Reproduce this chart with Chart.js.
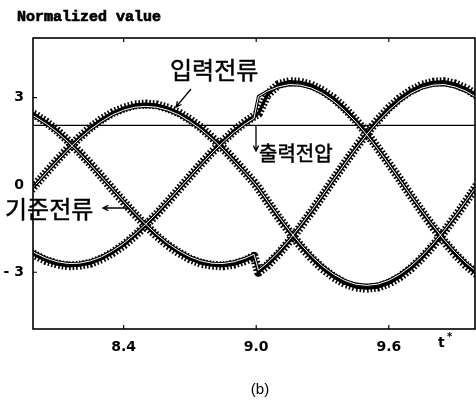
<!DOCTYPE html>
<html>
<head>
<meta charset="utf-8">
<script src="https://cdn.jsdelivr.net/npm/chart.js@4.4.0/dist/chart.umd.min.js"></script>
<style>
    html, body { margin: 0; padding: 0; background: #fff; }
    canvas { display: block; }
</style>
</head>
<body>
<canvas id="chart" width="476" height="401"></canvas>
<script>
// normalized time t*
const timeAxis = [
    7.95, 8.0, 8.05, 8.1, 8.15, 8.2, 8.25, 8.3, 8.35, 8.4, 8.45, 8.5, 8.55, 8.6, 8.65,
    8.7, 8.75, 8.8, 8.85, 8.9, 8.95, 8.99, 9.01, 9.05, 9.1, 9.15, 9.2, 9.25, 9.3, 9.35,
    9.4, 9.45, 9.5, 9.55, 9.6, 9.65, 9.7, 9.75, 9.8, 9.85, 9.9, 9.95, 10.0,
]

// 기준전류 (reference currents, phases a/b/c) - step in amplitude at t* = 9.0
const refA = [
    -0.42, 0, 0.42, 0.83, 1.23, 1.59, 1.91, 2.18, 2.41, 2.57, 2.67, 2.7, 2.67, 2.57, 2.41,
    2.18, 1.91, 1.59, 1.23, 0.83, 0.42, 0.08, -0.11, -0.54, -1.07, -1.57, -2.03, -2.44, -2.79, -3.07,
    -3.28, -3.41, -3.45, -3.41, -3.28, -3.07, -2.79, -2.44, -2.03, -1.57, -1.07, -0.54, 0,
]
const refB = [
    2.52, 2.34, 2.1, 1.81, 1.47, 1.1, 0.7, 0.28, -0.14, -0.56, -0.97, -1.35, -1.7, -2.01, -2.26,
    -2.47, -2.61, -2.69, -2.7, -2.64, -2.52, -2.38, -2.93, -2.68, -2.31, -1.88, -1.4, -0.89, -0.36, 0.18,
    0.72, 1.24, 1.73, 2.17, 2.56, 2.89, 3.15, 3.33, 3.43, 3.45, 3.37, 3.22, 2.99,
]
const refC = [
    -2.1, -2.34, -2.52, -2.64, -2.7, -2.69, -2.61, -2.47, -2.26, -2.01, -1.7, -1.35, -0.97, -0.56, -0.14,
    0.28, 0.7, 1.1, 1.47, 1.81, 2.1, 2.29, 3.04, 3.22, 3.37, 3.45, 3.43, 3.33, 3.15, 2.89,
    2.56, 2.17, 1.73, 1.24, 0.72, 0.18, -0.36, -0.89, -1.4, -1.88, -2.31, -2.68, -2.99,
]

// 입력전류 (measured input currents)
const inA = [
    -0.43, 0, 0.43, 0.86, 1.26, 1.63, 1.97, 2.25, 2.48, 2.64, 2.75, 2.78, 2.75, 2.64, 2.48,
    2.25, 1.97, 1.63, 1.26, 0.86, 0.43, 0.09, -0.11, -0.56, -1.1, -1.61, -2.09, -2.51, -2.87, -3.16,
    -3.38, -3.51, -3.55, -3.51, -3.38, -3.16, -2.87, -2.51, -2.09, -1.61, -1.1, -0.56, 0,
]
const inB = [
    2.6, 2.41, 2.16, 1.86, 1.51, 1.13, 0.72, 0.29, -0.15, -0.58, -1.0, -1.39, -1.75, -2.07, -2.33,
    -2.54, -2.69, -2.76, -2.78, -2.72, -2.6, -2.45, -3.0, -2.76, -2.38, -1.93, -1.44, -0.92, -0.37, 0.19,
    0.74, 1.27, 1.78, 2.23, 2.64, 2.98, 3.24, 3.43, 3.53, 3.55, 3.47, 3.31, 3.07,
]
const inC = [
    -2.16, -2.41, -2.6, -2.72, -2.78, -2.76, -2.69, -2.54, -2.33, -2.07, -1.75, -1.39, -1.0, -0.58, -0.15,
    0.29, 0.72, 1.13, 1.51, 1.86, 2.16, 2.36, 2.45, 3.1, 3.45, 3.55, 3.53, 3.43, 3.24, 2.98,
    2.64, 2.23, 1.78, 1.27, 0.74, 0.19, -0.37, -0.92, -1.44, -1.93, -2.38, -2.76, -3.07,
]

// 출력전압 (output voltage, flat)
const outTime = [7.99, 9.99]
const outVoltage = [2.05, 2.05]

const xTicks = [8.4, 9.0, 9.6]
const yTicks = [-3, 0, 3]

function points(times, values) {
    return times.map((t, i) => ({ x: t, y: values[i] }))
}

function trace(values, width, color, order, dash) {
    return {
        data: points(timeAxis, values),
        borderColor: color,
        borderWidth: width,
        borderDash: dash || [],
        borderCapStyle: "butt",
        borderJoinStyle: "round",
        pointRadius: 0,
        tension: 0,
        clip: 0,
        order: order,
    }
}

function arrow(ctx, x1, y1, x2, y2) {
    const a = Math.atan2(y2 - y1, x2 - x1)
    const h = 6
    ctx.beginPath()
    ctx.moveTo(x1, y1)
    ctx.lineTo(x2, y2)
    ctx.moveTo(x2 - h * Math.cos(a - 0.45), y2 - h * Math.sin(a - 0.45))
    ctx.lineTo(x2, y2)
    ctx.lineTo(x2 - h * Math.cos(a + 0.45), y2 - h * Math.sin(a + 0.45))
    ctx.stroke()
}

const decorations = {
    id: "decorations",
    beforeDatasetsDraw(chart) {
        const ctx = chart.ctx
        ctx.save()
        ctx.fillStyle = "#000"
        ctx.strokeStyle = "#000"
        ctx.textBaseline = "middle"
        ctx.textAlign = "left"

        // heavy typewriter title
        ctx.font = "bold 15px 'Liberation Mono'"
        ctx.lineWidth = 0.7
        ctx.fillText("Normalized value", 17, 17)
        ctx.strokeText("Normalized value", 17, 17)

        ctx.font = "24px 'Noto Sans CJK KR'"
        ctx.lineWidth = 0.5
        ctx.fillText("입력전류", 170, 70)
        ctx.strokeText("입력전류", 170, 70)
        ctx.fillText("기준전류", 5, 209)
        ctx.strokeText("기준전류", 5, 209)
        ctx.font = "20px 'Noto Sans CJK KR'"
        ctx.fillText("출력전압", 259, 153)
        ctx.strokeText("출력전압", 259, 153)

        ctx.lineWidth = 1.3
        arrow(ctx, 191, 89, 176, 107)
        arrow(ctx, 131, 208, 103, 208)
        arrow(ctx, 256, 125, 256, 151)

        ctx.font = "bold 14px 'DejaVu Sans'"
        ctx.fillText("t", 438, 343)
        ctx.font = "bold 10px 'DejaVu Sans'"
        ctx.fillText("*", 447, 337)

        ctx.font = "15px 'Liberation Sans'"
        ctx.textAlign = "center"
        ctx.fillText("(b)", 260, 390)
        ctx.restore()
    },
    afterDatasetsDraw(chart) {
        const ctx = chart.ctx
        const area = chart.chartArea
        const xs = chart.scales.x
        const ys = chart.scales.y
        ctx.save()
        ctx.strokeStyle = "#000"
        ctx.lineWidth = 1.6
        ctx.strokeRect(area.left, area.top, area.right - area.left, area.bottom - area.top)
        ctx.lineWidth = 1.2
        ctx.beginPath()
        xTicks.forEach((v) => {
            const px = xs.getPixelForValue(v)
            ctx.moveTo(px, area.bottom)
            ctx.lineTo(px, area.bottom - 4)
            ctx.moveTo(px, area.top)
            ctx.lineTo(px, area.top + 4)
        })
        yTicks.forEach((v) => {
            const py = ys.getPixelForValue(v)
            ctx.moveTo(area.left, py)
            ctx.lineTo(area.left + 4, py)
        })
        ctx.stroke()
        ctx.restore()
    },
}

const ripple = [1.6, 1.9]

const datasets = [
    {
        data: points(outTime, outVoltage),
        borderColor: "#000",
        borderWidth: 1.3,
        pointRadius: 0,
        clip: 0,
        order: 6,
    },
    // switching ripple on the measured currents
    trace(inA, 9, "#000", 5, ripple),
    trace(inB, 9, "#000", 5, ripple),
    trace(inC, 9, "#000", 5, ripple),
    trace(inA, 3.2, "#000", 4),
    trace(inB, 3.2, "#000", 4),
    trace(inC, 3.2, "#000", 4),
    // reference drawn as a hollow line
    trace(refA, 3.2, "#000", 3),
    trace(refB, 3.2, "#000", 3),
    trace(refC, 3.2, "#000", 3),
    trace(refA, 1, "#fff", 2),
    trace(refB, 1, "#fff", 2),
    trace(refC, 1, "#fff", 2),
]

const tickFont = { family: "'DejaVu Sans'", size: 14, weight: "bold" }

new Chart(document.getElementById("chart").getContext("2d"), {
    type: "line",
    data: { datasets },
    plugins: [decorations],
    options: {
        responsive: false,
        animation: false,
        devicePixelRatio: 1,
        layout: {
            padding: { top: 38, right: 1, left: 0, bottom: 0 },
        },
        plugins: {
            legend: { display: false },
            tooltip: { enabled: false },
        },
        scales: {
            x: {
                type: "linear",
                min: 7.99,
                max: 9.99,
                afterFit: (s) => {
                    s.height = 72
                },
                afterBuildTicks: (s) => {
                    s.ticks = xTicks.map((v) => ({ value: v }))
                },
                grid: { display: false, drawTicks: false },
                border: { display: false },
                ticks: {
                    autoSkip: false,
                    maxRotation: 0,
                    padding: 10,
                    color: "#000",
                    font: tickFont,
                    callback: (v) => Number(v).toFixed(1),
                },
            },
            y: {
                min: -4.95,
                max: 5.05,
                afterFit: (s) => {
                    s.width = 33
                },
                afterBuildTicks: (s) => {
                    s.ticks = yTicks.map((v) => ({ value: v }))
                },
                grid: { display: false, drawTicks: false },
                border: { display: false },
                ticks: {
                    padding: 9,
                    color: "#000",
                    font: tickFont,
                    callback: (v) => (v < 0 ? "- " + Math.abs(v) : String(v)),
                },
            },
        },
    },
})
</script>
</body>
</html>
